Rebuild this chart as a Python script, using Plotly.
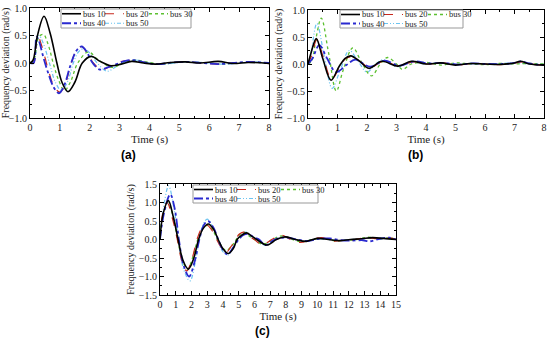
import plotly.graph_objects as go

W, H = 550, 340

# ---------------- data: panel (a) ----------------
a_bus10_t = [0, 0.1, 0.25, 0.47, 0.67, 0.9, 1.07, 1.27, 1.5, 1.75, 2.05, 2.35, 2.72, 3.05, 3.4, 3.8, 4.2, 4.7, 5.2, 5.7, 6.3, 6.8, 7.3, 8.0]
a_bus10_y = [0, 0.05, 0.5, 0.85, 0.55, 0.0, -0.35, -0.52, -0.35, 0.0, 0.12, 0.03, -0.05, -0.02, 0.03, 0.0, -0.02, 0.01, 0.02, 0.0, 0.03, -0.01, 0.01, -0.01]
a_bus20_t = [0, 0.12, 0.25, 0.4, 0.6, 0.8, 1.0, 1.18, 1.38, 1.55, 1.72, 1.9, 2.12, 2.4, 2.7, 3.0, 3.4, 3.8, 4.3, 4.8, 5.3, 5.8, 6.3, 6.8, 7.3, 8.0]
a_bus20_y = [0, 0.0, 0.5, 0.3, -0.1, -0.42, -0.53, -0.38, 0.0, 0.22, 0.3, 0.2, 0.0, -0.12, -0.06, 0.02, 0.05, 0.01, -0.02, 0.01, 0.02, 0.0, -0.02, 0.0, 0.02, -0.01]
a_bus30_t = [0, 0.12, 0.3, 0.45, 0.6, 0.8, 0.95, 1.15, 1.35, 1.6, 1.95, 2.3, 2.75, 3.1, 3.5, 3.9, 4.4, 4.9, 5.4, 5.9, 6.4, 6.9, 7.4, 8.0]
a_bus30_y = [0, 0.05, 0.48, 0.52, 0.35, -0.05, -0.3, -0.5, -0.35, 0.0, 0.2, 0.05, -0.08, 0.0, 0.05, 0.02, -0.02, 0.01, 0.02, 0.0, -0.02, 0.0, 0.02, -0.01]
a_bus40_t = [0, 0.12, 0.22, 0.3, 0.45, 0.62, 0.8, 0.97, 1.15, 1.35, 1.55, 1.73, 1.9, 2.1, 2.34, 2.6, 2.9, 3.2, 3.5, 3.9, 4.3, 4.8, 5.3, 5.8, 6.3, 6.8, 7.3, 8.0]
a_bus40_y = [0, 0.0, 0.48, 0.4, 0.1, -0.2, -0.45, -0.55, -0.4, -0.05, 0.22, 0.3, 0.2, 0.0, -0.12, -0.08, -0.02, 0.04, 0.05, 0.0, -0.02, 0.01, 0.02, 0.0, -0.02, 0.0, 0.02, 0.0]
a_bus50_t = [0, 0.12, 0.3, 0.45, 0.65, 0.85, 1.05, 1.25, 1.45, 1.62, 1.8, 2.0, 2.25, 2.58, 2.9, 3.25, 3.6, 4.0, 4.5, 5.0, 5.5, 6.0, 6.5, 7.0, 7.5, 8.0]
a_bus50_y = [0, 0.02, 0.5, 0.35, 0.0, -0.35, -0.5, -0.35, 0.0, 0.2, 0.26, 0.18, 0.0, -0.15, -0.06, 0.03, 0.05, 0.0, -0.02, 0.01, 0.02, 0.0, -0.02, 0.0, 0.02, 0.0]

# ---------------- data: panel (b) ----------------
b_bus10_t = [0, 0.1, 0.28, 0.5, 0.78, 1.05, 1.25, 1.45, 1.75, 2.06, 2.5, 3.05, 3.5, 4.0, 4.5, 5.0, 5.5, 6.0, 6.5, 7.0, 7.2, 7.5, 8.0]
b_bus10_y = [0, 0.2, 0.47, 0.1, -0.3, -0.05, 0.1, 0.15, 0.05, -0.08, 0.05, -0.04, 0.05, 0.0, 0.02, -0.02, 0.01, 0.0, -0.01, 0.02, 0.05, 0.0, -0.02]
b_bus20_t = [0, 0.12, 0.3, 0.52, 0.8, 1.08, 1.28, 1.48, 1.78, 2.1, 2.55, 3.1, 3.55, 4.05, 4.55, 5.05, 5.55, 6.05, 6.55, 7.05, 7.25, 7.55, 8.0]
b_bus20_y = [0, 0.15, 0.45, 0.12, -0.28, -0.05, 0.1, 0.13, 0.04, -0.07, 0.05, -0.04, 0.04, 0.0, 0.02, -0.02, 0.01, 0.0, -0.01, 0.02, 0.04, 0.0, -0.02]
b_bus30_t = [0, 0.12, 0.28, 0.45, 0.7, 0.96, 1.2, 1.52, 1.8, 2.15, 2.45, 2.7, 3.0, 3.2, 3.5, 4.0, 4.5, 5.0, 5.5, 6.0, 6.5, 7.0, 7.5, 8.0]
b_bus30_y = [0, 0.05, 0.5, 0.85, 0.2, -0.5, -0.1, 0.3, 0.05, -0.22, 0.0, 0.12, 0.0, -0.1, 0.0, 0.03, -0.02, 0.02, 0.0, -0.01, 0.01, 0.0, 0.01, 0.0]
b_bus40_t = [0, 0.15, 0.38, 0.65, 0.95, 1.3, 1.6, 2.1, 2.6, 3.1, 3.6, 4.1, 4.6, 5.1, 5.6, 6.1, 6.6, 7.0, 7.2, 7.5, 8.0]
b_bus40_y = [0, 0.1, 0.35, 0.1, -0.15, -0.02, 0.08, -0.05, 0.06, -0.03, 0.05, 0.01, 0.02, -0.01, 0.01, 0.0, 0.0, 0.02, 0.05, 0.01, -0.02]
b_bus50_t = [0, 0.1, 0.3, 0.55, 0.82, 1.1, 1.4, 1.7, 2.0, 2.3, 2.55, 2.8, 3.05, 3.5, 4.0, 4.5, 5.0, 5.5, 6.0, 6.5, 7.0, 7.5, 8.0]
b_bus50_y = [0, 0.2, 0.75, 0.15, -0.45, -0.1, 0.25, 0.05, -0.15, 0.0, 0.08, 0.0, -0.05, 0.03, 0.0, 0.02, -0.01, 0.01, 0.0, 0.01, 0.02, 0.0, 0.0]

# ---------------- data: panel (c) ----------------
c_bus10_t = [0, 0.2, 0.53, 0.85, 1.15, 1.45, 1.8, 2.15, 2.45, 2.75, 3.07, 3.4, 3.7, 4.0, 4.34, 4.65, 4.9, 5.2, 5.5, 5.8, 6.15, 6.8, 7.4, 7.95, 8.6, 9.3, 10.0, 10.7, 11.4, 12.1, 12.8, 13.5, 14.2, 15.0]
c_bus10_y = [0, 0.7, 1.05, 0.6, 0.0, -0.55, -0.8, -0.5, 0.0, 0.3, 0.42, 0.28, 0.0, -0.25, -0.38, -0.25, 0.0, 0.12, 0.18, 0.1, 0.0, -0.15, 0.0, 0.07, 0.0, -0.05, 0.03, 0.0, -0.03, 0.0, 0.02, 0.05, 0.03, 0.0]
c_bus20_t = [0, 0.15, 0.45, 0.8, 1.1, 1.4, 1.7, 2.05, 2.35, 2.65, 2.95, 3.3, 3.6, 3.9, 4.2, 4.5, 4.8, 5.05, 5.35, 5.7, 6.0, 6.5, 7.1, 7.7, 8.3, 8.9, 9.6, 10.3, 11.0, 11.7, 12.4, 13.1, 13.8, 14.5, 15.0]
c_bus20_y = [0, 0.65, 1.0, 0.55, 0.0, -0.6, -0.85, -0.5, 0.0, 0.3, 0.4, 0.25, 0.0, -0.22, -0.35, -0.2, 0.0, 0.15, 0.2, 0.08, 0.0, -0.15, 0.0, 0.12, 0.0, -0.08, 0.0, 0.05, -0.04, -0.02, 0.0, 0.05, 0.02, 0.05, 0.0]
c_bus30_t = [0, 0.15, 0.5, 0.85, 1.12, 1.42, 1.75, 2.1, 2.4, 2.7, 3.0, 3.35, 3.65, 3.95, 4.2, 4.55, 4.85, 5.1, 5.3, 5.7, 6.0, 6.55, 7.15, 7.75, 8.4, 9.0, 9.7, 10.4, 11.1, 11.8, 12.5, 13.2, 13.9, 14.6, 15.0]
c_bus30_y = [0, 0.6, 1.0, 0.6, 0.0, -0.55, -0.8, -0.45, 0.0, 0.28, 0.38, 0.25, 0.0, -0.2, -0.3, -0.18, 0.0, 0.15, 0.2, 0.08, 0.0, -0.13, 0.0, 0.1, 0.0, -0.06, 0.0, 0.04, -0.04, -0.02, 0.0, 0.06, 0.02, 0.04, 0.0]
c_bus40_t = [0, 0.25, 0.65, 0.95, 1.2, 1.5, 1.85, 2.2, 2.5, 2.8, 3.05, 3.4, 3.7, 4.0, 4.3, 4.65, 5.0, 5.3, 5.6, 6.0, 6.3, 6.7, 7.3, 8.0, 8.7, 9.4, 10.1, 10.8, 11.5, 12.2, 12.9, 13.3, 14.0, 14.6, 15.0]
c_bus40_y = [0, 0.7, 1.22, 0.8, 0.0, -0.7, -1.0, -0.6, 0.0, 0.4, 0.5, 0.32, 0.0, -0.28, -0.4, -0.22, 0.0, 0.12, 0.15, 0.05, 0.0, -0.15, 0.0, 0.05, 0.0, -0.04, 0.02, 0.03, -0.02, -0.03, -0.02, -0.05, 0.02, 0.05, 0.0]
c_bus50_t = [0, 0.2, 0.55, 0.9, 1.18, 1.5, 1.9, 2.25, 2.5, 2.75, 3.0, 3.35, 3.65, 3.95, 4.3, 4.6, 4.9, 5.2, 5.5, 5.8, 6.15, 6.7, 7.3, 7.9, 8.6, 9.3, 10.0, 10.7, 11.4, 12.1, 12.8, 13.5, 14.2, 15.0]
c_bus50_y = [0, 0.8, 1.45, 0.8, 0.0, -0.8, -1.12, -0.6, 0.0, 0.42, 0.55, 0.35, 0.0, -0.3, -0.42, -0.25, 0.0, 0.15, 0.2, 0.1, 0.0, -0.15, 0.0, 0.06, 0.0, -0.04, 0.02, 0.0, -0.03, 0.0, 0.02, 0.04, 0.03, 0.0]

series_names = ["bus 10", "bus 20", "bus 30", "bus 40", "bus 50"]
x_ticks_ab = [0, 1, 2, 3, 4, 5, 6, 7, 8]
x_ticks_c = list(range(0, 16))
y_ticks_ab = [-1.0, -0.5, 0.0, 0.5, 1.0]
y_ticks_c = [-1.5, -1.0, -0.5, 0.0, 0.5, 1.0, 1.5]
panel_labels = ["(a)", "(b)", "(c)"]

# ---------------- styles ----------------
colors = ["#000000", "#c8281e", "#5cc030", "#2a2ad0", "#6cc4f0"]
dashes = ["solid", "dash", "dot", "dashdot", "4px,2px,1px,2px,1px,2px"]
widths = [1.6, 1.2, 1.3, 1.8, 1.2]

SERIF = "Liberation Serif, Times New Roman, serif"

# panel domains in pixels: (x0, x1, ytop, ybottom)
px = {
    "a": (30, 269, 8, 118),
    "b": (308, 544, 10, 118),
    "c": (160, 396, 184, 295),
}
axis_ids = {"a": ("x", "y"), "b": ("x2", "y2"), "c": ("x3", "y3")}

panels = {
    "a": [(a_bus10_t, a_bus10_y), (a_bus20_t, a_bus20_y), (a_bus30_t, a_bus30_y), (a_bus40_t, a_bus40_y), (a_bus50_t, a_bus50_y)],
    "b": [(b_bus10_t, b_bus10_y), (b_bus20_t, b_bus20_y), (b_bus30_t, b_bus30_y), (b_bus40_t, b_bus40_y), (b_bus50_t, b_bus50_y)],
    "c": [(c_bus10_t, c_bus10_y), (c_bus20_t, c_bus20_y), (c_bus30_t, c_bus30_y), (c_bus40_t, c_bus40_y), (c_bus50_t, c_bus50_y)],
}
draw_order = [4, 2, 1, 3, 0]

fig = go.Figure()
for key, data in panels.items():
    xa, ya = axis_ids[key]
    for i in draw_order:
        t, y = data[i]
        fig.add_trace(go.Scatter(
            x=t, y=y, mode="lines", name=series_names[i], showlegend=False,
            line=dict(color=colors[i], dash=dashes[i], width=widths[i], shape="spline", smoothing=1.0),
            xaxis=xa, yaxis=ya, hoverinfo="skip"))

def axis_common():
    return dict(
        showline=True, linecolor="black", linewidth=1, mirror="allticks",
        ticks="inside", ticklen=4, tickwidth=1, tickcolor="black",
        showgrid=False, zeroline=False, automargin=False,
        tickfont=dict(family=SERIF, size=10, color="#222"),
    )

layout = dict(width=W, height=H, margin=dict(l=0, r=0, t=0, b=0),
              paper_bgcolor="white", plot_bgcolor="white", showlegend=False,
              template="none")

for key in ["a", "b", "c"]:
    x0, x1, yt, yb = px[key]
    xa, ya = axis_ids[key]
    xname = "xaxis" if xa == "x" else "xaxis" + xa[1:]
    yname = "yaxis" if ya == "y" else "yaxis" + ya[1:]
    xticks = x_ticks_c if key == "c" else x_ticks_ab
    yticks = y_ticks_c if key == "c" else y_ticks_ab
    xax = axis_common()
    xax.update(domain=[x0 / W, x1 / W], range=[xticks[0], xticks[-1]], tickvals=xticks,
               anchor=ya, minor=dict(ticks="inside", ticklen=2, dtick=0.5, tickcolor="black"),
               title=dict(text="Time (s)", font=dict(family=SERIF, size=11, color="#222"), standoff=0))
    yax = axis_common()
    yax.update(domain=[1 - yb / H, 1 - yt / H], range=[yticks[0], yticks[-1]], tickvals=yticks,
               tickformat=".1f", anchor=xa,
               minor=dict(ticks="inside", ticklen=2, dtick=0.25, tickcolor="black"),
               title=dict(text="Frequency deviation (rad/s)", font=dict(family=SERIF, size=10, color="#222"), standoff=2))
    layout[xname] = xax
    layout[yname] = yax

fig.update_layout(**layout)

# ---------------- manual legends ----------------
legend_box = {"a": (61, 191, 9, 28), "b": (340, 463, 10, 28), "c": (193, 318, 185, 203)}
col_off = [1, 44, 88]
sample_w = 19
shapes = []
annotations = []
for key in ["a", "b", "c"]:
    x0, x1, yt, yb = px[key]
    bx0, bx1, by0, by1 = legend_box[key]
    xa, ya = axis_ids[key]
    xr, yr = xa + " domain", ya + " domain"
    fx = lambda p: (p - x0) / (x1 - x0)
    fy = lambda p: (yb - p) / (yb - yt)
    shapes.append(dict(type="rect", xref=xr, yref=yr, x0=fx(bx0), x1=fx(bx1), y0=fy(by1), y1=fy(by0),
                       line=dict(color="#999", width=1), fillcolor="white", layer="above"))
    row_h = (by1 - by0) / 2
    for i, name in enumerate(series_names):
        row, col = divmod(i, 3)
        cy = by0 + row_h * (row + 0.5)
        sx = bx0 + col_off[col]
        shapes.append(dict(type="line", xref=xr, yref=yr, x0=fx(sx), x1=fx(sx + sample_w), y0=fy(cy), y1=fy(cy),
                           line=dict(color=colors[i], dash=dashes[i], width=widths[i]), layer="above"))
        annotations.append(dict(xref=xr, yref=yr, x=fx(sx + sample_w + 1), y=fy(cy), text=name,
                                showarrow=False, xanchor="left", yanchor="middle", borderpad=0,
                                font=dict(family=SERIF, size=8.5, color="#222")))

label_pos = [(128, 155), (415, 155), (262, 331)]
for lab, (lx, ly) in zip(panel_labels, label_pos):
    annotations.append(dict(xref="paper", yref="paper", x=lx / W, y=1 - ly / H, text="<b>" + lab + "</b>",
                            showarrow=False, xanchor="center", yanchor="middle",
                            font=dict(family="Liberation Sans, Arial, sans-serif", size=12, color="black")))

fig.update_layout(shapes=shapes, annotations=annotations)
fig.write_html("out.html", config={"displayModeBar": False},
               post_script="document.body.style.margin='0';document.body.style.padding='0';")
